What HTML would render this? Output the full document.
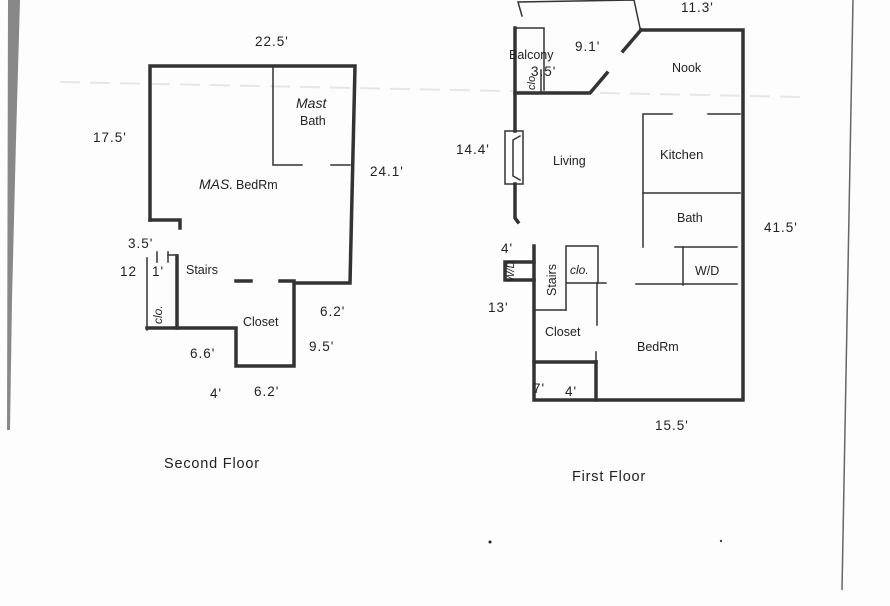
<!DOCTYPE html>
<html><head><meta charset="utf-8"><style>
html,body{margin:0;padding:0;background:#fff;}
svg{display:block;}
text{font-family:"Liberation Sans",sans-serif;fill:#222;}
</style></head><body>
<svg width="890" height="606" viewBox="0 0 890 606" xmlns="http://www.w3.org/2000/svg">
<rect width="890" height="606" fill="#fdfdfd"/>
<!-- scan edges -->
<polygon points="8,0 20,0 16,140 12,300 10,430 7,430" fill="#888"/>
<line x1="853" y1="0" x2="842" y2="590" stroke="#666" stroke-width="1.5"/>
<line x1="60" y1="82" x2="800" y2="97" stroke="#e6e6e6" stroke-width="2" stroke-dasharray="20,10"/>

<g stroke="#333" fill="none" stroke-linecap="square">
<!-- SECOND FLOOR -->
<g stroke-width="3.5">
<polyline points="150,220 150,66 355,66 350,283 294,283 294,366 236,366 236,328 177,328 177,256"/>
<polyline points="150,220 180,220 180,228"/>
<line x1="147" y1="328" x2="177" y2="328"/>
<line x1="236" y1="281" x2="251" y2="281"/>
<line x1="280" y1="281" x2="294" y2="281"/>
</g>
<g stroke-width="1.5">
<polyline points="273,66 273,165 302,165"/>
<line x1="331" y1="165" x2="350" y2="165"/>
<line x1="147" y1="258" x2="147" y2="330"/>
<line x1="168" y1="255" x2="177" y2="255"/>
<line x1="157" y1="252" x2="157" y2="262"/>
<line x1="168" y1="252" x2="168" y2="262"/>
</g>

<!-- FIRST FLOOR -->
<g stroke-width="3.5">
<polyline points="641,30 743,30 743,400 534,400 534,246"/>
<line x1="641" y1="30" x2="623" y2="51"/>
<polyline points="515,93 590,93 607,73"/>
<polyline points="515,28 515,131"/>
<polyline points="515,184 515,218 518,222"/>
<line x1="534" y1="362" x2="596" y2="362"/>
<line x1="596" y1="362" x2="596" y2="400"/>
<polyline points="534,262 505,262 505,280 534,280"/>
</g>
<g stroke-width="1.5">
<polyline points="517,28 544,28 544,90"/>
<line x1="541" y1="70" x2="541" y2="92"/>
<polyline points="522,16 518,2 634,0 640,28"/>
<rect x="505" y="131" width="18" height="53"/>
<path d="M520,136 L513,140 L513,176 L520,180"/>
<polyline points="672,114 643,114 643,247"/>
<line x1="708" y1="114" x2="740" y2="114"/>
<line x1="643" y1="193" x2="740" y2="193"/>
<line x1="675" y1="247" x2="737" y2="247"/>
<line x1="683" y1="247" x2="683" y2="285"/>
<line x1="636" y1="284" x2="737" y2="284"/>
<polyline points="566,310 566,246 598,246 598,283 566,283"/>
<line x1="598" y1="283" x2="606" y2="283"/>
<line x1="597" y1="283" x2="597" y2="325"/>
<line x1="534" y1="310" x2="566" y2="310"/>
<line x1="596" y1="352" x2="596" y2="362"/>
</g>
</g>

<g font-size="13.5" letter-spacing="1">
<text x="255" y="46">22.5'</text>
<text x="93" y="142">17.5'</text>
<text x="370" y="176">24.1'</text>
<text x="128" y="248">3.5'</text>
<text x="120" y="276">12</text>
<text x="152" y="276">1'</text>
<text x="320" y="316">6.2'</text>
<text x="309" y="351">9.5'</text>
<text x="190" y="358">6.6'</text>
<text x="210" y="398">4'</text>
<text x="254" y="396">6.2'</text>
<text x="681" y="12">11.3'</text>
<text x="575" y="51">9.1'</text>
<text x="531" y="76">3.5'</text>
<text x="456" y="154">14.4'</text>
<text x="764" y="232">41.5'</text>
<text x="501" y="253">4'</text>
<text x="488" y="312">13'</text>
<text x="533" y="393">7'</text>
<text x="565" y="396">4'</text>
<text x="655" y="430">15.5'</text>
</g>
<g font-size="12.5">
<text x="300" y="125">Bath</text>
<text x="236" y="189">BedRm</text>
<text x="186" y="274">Stairs</text>
<text x="243" y="326">Closet</text>
<text x="509" y="59">Balcony</text>
<text x="672" y="72">Nook</text>
<text x="553" y="165">Living</text>
<text x="660" y="159" font-size="13">Kitchen</text>
<text x="677" y="222">Bath</text>
<text x="695" y="275">W/D</text>
<text x="545" y="336">Closet</text>
<text x="637" y="351">BedRm</text>
<text transform="translate(556,296) rotate(-90)">Stairs</text>
</g>
<g font-family="Liberation Serif,serif" font-style="italic" font-size="14">
<text x="296" y="108">Mast</text>
<text x="199" y="189">MAS.</text>
<text transform="translate(162,324) rotate(-90)" font-size="12">clo.</text>
<text transform="translate(535,90) rotate(-90)" font-size="11">clo</text>
<text x="570" y="274" font-size="12">clo.</text>
<text transform="translate(514,282) rotate(-90)" font-size="11">W/D</text>
</g>
<g font-size="14.5" letter-spacing="0.8">
<text x="164" y="468">Second Floor</text>
<text x="572" y="481">First Floor</text>
</g>
<circle cx="490" cy="542" r="1.5" fill="#222"/>
<circle cx="721" cy="541" r="1.2" fill="#444"/>
</svg>
</body></html>
